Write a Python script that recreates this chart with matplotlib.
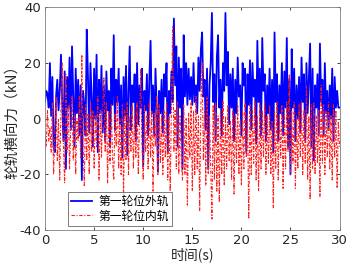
import numpy as np
import matplotlib.pyplot as plt

plt.rcParams['font.family'] = ['DejaVu Sans', 'Noto Sans CJK SC']
plt.rcParams['axes.unicode_minus'] = False

# outer rail (blue), 8 samples per second
outer = [
    6, 10, 9, 4, 20, 1, 15, -10,
    -12, 8, 14, 3, 10, 23, 6, -8,
    17, -18, 15, 4, 22, -4, 26, 8,
    -10, 18, 2, 14, -6, 12, -22, 10,
    5, -6, 32, 15, -5, 20, 8, -10,
    18, 0, 23, -12, 14, 2, 19, -5,
    12, -8, 17, 3, 10, -10, 18, 5,
    30, -4, 14, 6, 18, -2, 12, -14,
    15, 1, 19, -13, 10, 26, -4, 12,
    6, 16, -8, 20, -2, 12, 4, 18,
    -17, 10, 3, 16, -6, 14, 28, 2,
    12, -6, 18, 4, -19, 10, 2, 14,
    -5, 16, 8, 20, -12, 10, 2, 17,
    6, 36, 12, 26, -10, 22, 4, 18,
    -18, 30, 8, 20, 5, 18, 7, 15,
    5, 20, 6, 12, 2, 22, 10, 25,
    31, 8, 14, -4, 18, -18, 12, 20,
    38, 6, 16, -8, 22, 30, 4, 14,
    -6, 20, 10, 38, 12, 24, -2, 16,
    4, 18, -8, 14, 2, 22, 8, 12,
    -6, 20, 12, 18, -12, 16, 5, 21,
    -4, 20, 8, 14, -9, 28, 6, 18,
    -6, 29, 10, 16, -8, 12, 2, 18,
    -4, 14, -12, 31, 6, 16, -8, 12,
    2, 20, -6, 17, 4, 29, -10, 14,
    -20, 25, 4, 18, -8, 12, 0, 15,
    -5, 22, 6, 16, -8, 20, 2, 14,
    27, -10, 18, -15, 12, 4, 16, -6,
    27, 6, 14, -6, 20, 2, 10, -4,
    12, 0, 18, -8, 15, 4, 10, 4,
    4,
]

# inner rail (red)
inner = [
    -6, -10, 3, -8, -3, -12, 6, -20,
    -5, 8, -15, 0, -22, 4, 20, -10,
    -23, 16, -12, 5, -18, -2, 8, -15,
    2, -20, 0, -8, 8, -14, 23, -10,
    -24, 5, -15, 2, -20, 6, -12, 3,
    -18, 1, -10, 8, -22, 3, -14, 5,
    15, -12, 6, -23, 2, -16, 5, -14,
    -22, 2, -10, 8, -18, 0, -20, 5,
    -28, 3, -15, 6, -20, 1, -12, 5,
    -18, 3, -14, 6, -20, 0, 18, -10,
    -22, 5, -12, 1, -18, 6, -14, 3,
    -26, 2, -10, 8, -20, 5, -16, 1,
    -20, 3, -14, 6, -22, 1, -26, 5,
    33, -12, 3, -18, 6, -20, 1, -15,
    -22, 5, -20, 0, -31, 2, -14, 6,
    -26, 3, -20, 8, -18, 1, -33, 5,
    20, -15, 3, -24, 8, -20, 1, -18,
    -36, 5, -22, 6, -26, 1, -30, 3,
    -20, 6, -24, 1, -18, 5, -15, -1,
    -22, 3, -27, 1, -16, 5, -20, -1,
    -24, 3, -18, 6, -14, 1, -36, 5,
    -20, 3, -16, 6, -22, 1, -26, 5,
    -18, 3, -14, 6, -20, 1, -16, 5,
    -20, -1, -32, 3, -18, 6, -22, 1,
    -14, 5, -25, 3, -18, 6, -12, 16,
    -20, 3, -16, 6, -25, 1, -18, 5,
    -14, 6, -20, 3, -16, 12, -22, 1,
    -29, 5, -18, 6, -20, 1, -16, 3,
    -28, 12, -16, 5, -20, 3, -14, 6,
    -18, 1, -22, 5, -14, 3, -25, -1,
    -10,
]

t = np.arange(len(outer)) / 8.0
x_ticks = [0, 5, 10, 15, 20, 25, 30]
y_ticks = [-40, -20, 0, 20, 40]

fig = plt.figure(figsize=(3.49, 2.73), dpi=100)
ax = fig.add_axes([0.129, 0.157, 0.844, 0.816])

ax.plot(t, outer, color='#0000ff', lw=1.3, label='第一轮位外轨')
ax.plot(t, inner, color='#ff1a1a', lw=0.8, ls=(0, (3, 1.5, 1, 1.5)), label='第一轮位内轨')

ax.set_xlim(0, 30)
ax.set_ylim(-40, 40)
ax.set_xticks(x_ticks)
ax.set_yticks(y_ticks)
ax.tick_params(direction='in', length=2.5, width=0.6, labelsize=9.5,
               colors='#262626', top=True, right=True, pad=3)
for s in ax.spines.values():
    s.set_color('#808080')
    s.set_linewidth(0.6)

cjk = ['Noto Sans CJK SC', 'DejaVu Sans']
ax.set_xlabel('时间(s)', fontsize=10, family=cjk, color='#262626', labelpad=0)
ax.set_ylabel('轮轨横向力（kN）', fontsize=10.5, family=cjk, color='#262626', labelpad=0)

leg = ax.legend(loc='lower left', bbox_to_anchor=(0.07, 0.01), prop={'family': cjk, 'size': 8.5},
                frameon=True, fancybox=False, edgecolor='#404040', borderpad=0.25,
                handlelength=1.8, handletextpad=0.5, labelspacing=0.15, borderaxespad=0.2)
leg.get_frame().set_linewidth(0.6)

fig.savefig('out.png', dpi=100)
